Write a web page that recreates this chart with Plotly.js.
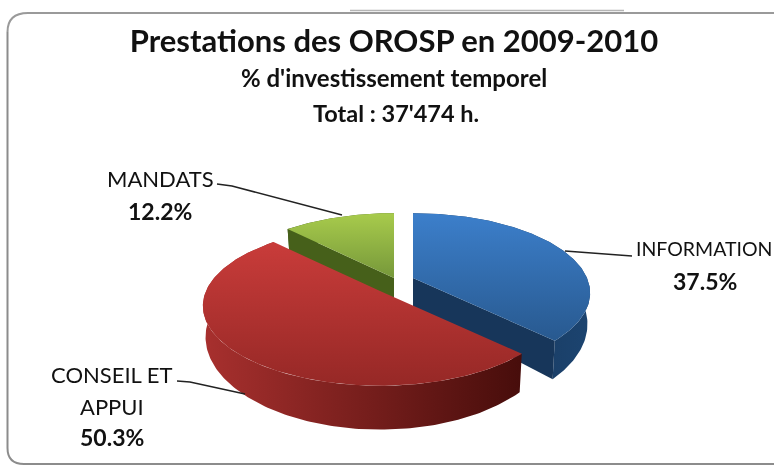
<!DOCTYPE html>
<html><head><meta charset="utf-8">
<script src="https://cdn.plot.ly/plotly-3.0.1.min.js"></script>
<style>html,body{margin:0;padding:0;background:#fff;overflow:hidden}#c{width:774px;height:467px;filter:blur(0.55px)}</style>
</head><body><div id="c"></div>
<script>
const categories = ['INFORMATION', 'CONSEIL ET<br>APPUI', 'MANDATS'];
const shares = [37.5, 50.3, 12.2];
const shareLabels = ['37.5%', '50.3%', '12.2%'];
const titleText = "Prestations des OROSP en 2009-2010";
const subtitleText = "% d'investissement temporel";
const totalText = "Total : 37'474 h.";

// exploded-slice apex per category and view geometry, in plot units
const apex = [[413, 278], [380, 291], [394, 278]];
const Rx = 174, Ry = 77, persp = 0.187, depthBase = 29;
const topFill = [['#28598f', '#3c7fcb'], ['#962826', '#c93c3a'], ['#76983a', '#a8cb4c']];
const sideFill = [['#14304f', '#1c4470'], ['#a8302e', '#470d0b'], ['#3d5516', '#4f6d1f']];
const wallFill = ['#17365a', '#6a1a18', '#46601a'];

function project(k, deg, r, lower) {
  const t = deg * Math.PI / 180, u = r * Math.sin(t), v = -r * Math.cos(t), w = 1 - persp * v;
  const d = lower ? depthBase / (w * w) : 0, s = lower ? 0.985 : 1;
  return [apex[k][0] + s * Rx * u / w, apex[k][1] + Ry * v / w + d];
}
function arc(k, a, b, lower) {
  const pts = [], n = Math.ceil(Math.abs(b - a));
  for (let i = 0; i <= n; i++) pts.push(project(k, a + (b - a) * i / n, 1, lower));
  return pts;
}
function poly(pts, name, fill) {
  const tr = {type: 'scatter', mode: 'lines', x: pts.map(p => p[0]), y: pts.map(p => p[1]),
    fill: 'toself', line: {width: 0}, name: name, hoverinfo: 'name', showlegend: false};
  if (fill.grad) tr.fillgradient = {type: fill.grad, colorscale: [[0, fill.c[0]], [1, fill.c[1]]]};
  else tr.fillcolor = fill.c;
  return tr;
}
// start/end angle of every slice, clockwise from twelve o'clock
let acc = 0;
const spans = shares.map(s => { const a = acc; acc += s * 3.6; return [a, acc]; });

const traces = [];
[2, 0, 1].forEach(k => {
  const [a, b] = spans[k], name = categories[k].replace('<br>', ' ');
  const upper = arc(k, a, b, false), lower = arc(k, a, b, true);
  traces.push(poly(upper.concat(lower.slice().reverse()), name, {grad: 'horizontal', c: sideFill[k]}));
  // radial faces: the large front slice turns its cut faces away from the viewer
  if (k !== 1) [a, b].forEach(t => {
    traces.push(poly([project(k, 0, 0, false), project(k, t, 1, false), project(k, t, 1, true), project(k, 0, 0, true)],
      name, {c: wallFill[k]}));
  });
  traces.push(poly([project(k, 0, 0, false)].concat(upper), name, {grad: 'vertical', c: topFill[k]}));
});

function txt(x, y, text, size, bold) {
  return {x: x, y: y, xref: 'x', yref: 'y', text: bold ? '<b>' + text + '</b>' : text, showarrow: false,
    xanchor: 'center', yanchor: 'middle', font: {family: 'Lato, sans-serif', size: size, color: '#111'}};
}
const annotations = [
  txt(394, 77, subtitleText, 24, true),
  txt(396, 113, totalText, 23.5, true),
  txt(160, 178, 'MANDATS', 22, false),
  txt(160, 211, shareLabels[2], 23, true),
  txt(704, 248, categories[0], 19.5, false),
  txt(705, 281, shareLabels[0], 23, true),
  txt(112, 374, 'CONSEIL ET', 22, false),
  txt(112, 406, 'APPUI', 22, false),
  txt(112, 437, shareLabels[1], 23, true)
];
function seg(path, color, width) { return {type: 'path', xref: 'x', yref: 'y', path: path, line: {color: color, width: width}}; }
const shapes = [
  seg('M 7.5 32 Q 7.5 13 28 13 L 774 13', '#9a9a9a', 2),
  seg('M 7.5 32 L 7.5 448 Q 7.5 464 24 464 L 774 464', '#8c8c8c', 2),
  seg('M 350 10.5 L 624 10.5', '#b5b5b5', 1.5),
  seg('M 217 184 L 232 186 L 342 215', '#222', 1.5),
  seg('M 565 251 L 632 256', '#222', 1.5),
  seg('M 177 381 L 190 382 L 245 394', '#222', 1.5)
];
Plotly.newPlot('c', traces, {
  width: 774, height: 467, margin: {l: 0, r: 0, t: 0, b: 0},
  paper_bgcolor: '#fff', plot_bgcolor: '#fff', showlegend: false,
  title: {text: '<b>' + titleText + '</b>', x: 394 / 774, xanchor: 'center', y: 1 - 41 / 467, yanchor: 'middle',
    font: {family: 'Lato, sans-serif', size: 31, color: '#111'}},
  xaxis: {range: [0, 774], visible: false, fixedrange: true},
  yaxis: {range: [467, 0], visible: false, fixedrange: true},
  annotations: annotations, shapes: shapes
}, {displayModeBar: false, staticPlot: true});
</script></body></html>
